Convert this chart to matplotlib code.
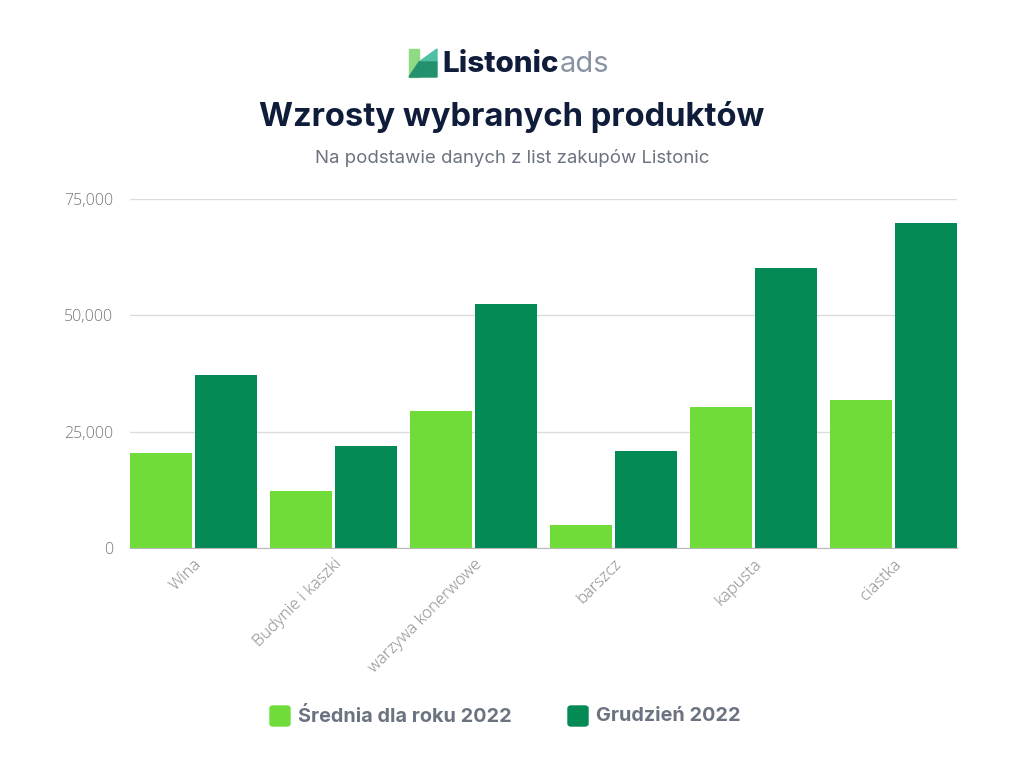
import numpy as np
import matplotlib.pyplot as plt
from matplotlib.patches import Polygon, FancyBboxPatch

# data
categories = ['Wina', 'Budynie i kaszki', 'warzywa konerwowe', 'barszcz', 'kapusta', 'ciastka']
avg_2022 = [20400, 12250, 29450, 4950, 30300, 31800]
dec_2022 = [37200, 21900, 52450, 20850, 60200, 69850]
series_names = ['Średnia dla roku 2022', 'Grudzień 2022']
y_ticks = [0, 25000, 50000, 75000]

LIGHT = '#6fdc3a'
DARK = '#038a55'
NAVY = '#0f1d3a'
GREY = '#6b7280'


def main():
    fig = plt.figure(figsize=(10.24, 7.68), dpi=100)
    fig.patch.set_facecolor('white')

    ax = fig.add_axes([130 / 1024, 1 - 548 / 768, 827 / 1024, 349 / 768])

    x = np.arange(len(categories))
    w = 62 / 140
    off = 32.5 / 140
    ax.bar(x - off, avg_2022, width=w, color=LIGHT, zorder=3)
    ax.bar(x + off, dec_2022, width=w, color=DARK, zorder=3)

    ax.set_xlim(-off - w / 2, len(categories) - 1 + off + w / 2)
    ax.set_ylim(0, 75000)
    ax.set_yticks(y_ticks)
    ax.set_yticklabels(['{:,}'.format(v) for v in y_ticks])
    ax.yaxis.grid(True, color='#dcdcdc', linewidth=1, zorder=0)
    ax.set_axisbelow(True)

    for s in ['top', 'right', 'left']:
        ax.spines[s].set_visible(False)
    ax.spines['bottom'].set_color('#b8b8b8')
    ax.spines['bottom'].set_zorder(4)

    ax.tick_params(axis='both', length=0)
    ax.tick_params(axis='y', pad=12, labelcolor='#777777', labelsize=11.5)
    ax.set_xticks(x)
    ax.set_xticklabels(categories, rotation=45, ha='right', rotation_mode='anchor',
                       color='#888888', fontsize=12)
    for t in ax.get_xticklabels() + ax.get_yticklabels():
        t.set_fontfamily('Open Sans')
        t.set_fontweight('light')
    ax.tick_params(axis='x', pad=6)

    # title and subtitle
    fig.text(0.5, 1 - 117 / 768, 'Wzrosty wybranych produktów', ha='center', va='center',
             fontsize=23.6, fontweight='bold', color=NAVY, family='Inter')
    fig.text(0.5, 1 - 158 / 768, 'Na podstawie danych z list zakupów Listonic', ha='center',
             va='center', fontsize=13.4, color=GREY, family='Inter')

    # logo
    def px(xp, yp):
        return (xp / 1024, 1 - yp / 768)
    fig.patches.append(Polygon([px(409, 49), px(419, 49), px(419, 77), px(409, 77)],
                               closed=True, color='#8fdb84', transform=fig.transFigure))
    fig.patches.append(Polygon([px(419, 62), px(437, 49), px(437, 62)],
                               closed=True, color='#4fbfa5', transform=fig.transFigure))
    fig.patches.append(Polygon([px(409, 77), px(419, 62), px(437, 62), px(437, 77)],
                               closed=True, color='#23916e', transform=fig.transFigure))
    fig.text(442 / 1024, 1 - 64 / 768, 'Listonic', ha='left', va='center',
             fontsize=21.3, fontweight='heavy', color=NAVY, family='Inter')
    fig.text(560 / 1024, 1 - 64 / 768, 'ads', ha='left', va='center',
             fontsize=21, color='#8a93a3', family='Inter')

    # legend
    for xp, col, name in [(270, LIGHT, series_names[0]), (568, DARK, series_names[1])]:
        fig.patches.append(FancyBboxPatch(px(xp, 726), 20 / 1024, 20 / 768,
                                          boxstyle='round,pad=0,rounding_size=0.003',
                                          color=col, transform=fig.transFigure))
        fig.text((xp + 28) / 1024, 1 - 716 / 768, name, ha='left', va='center',
                 fontsize=14.3, fontweight='bold', color=GREY, family='Inter')

    fig.savefig('out.png', dpi=100)


if __name__ == "__main__":
    main()
